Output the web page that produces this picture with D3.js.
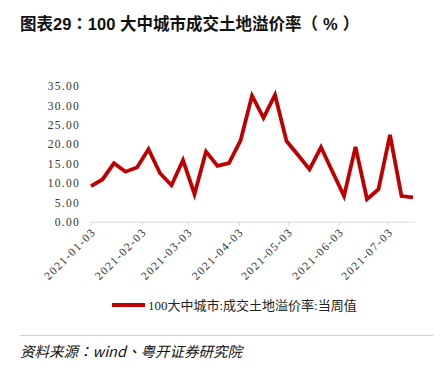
<!DOCTYPE html>
<html><head><meta charset="utf-8">
<script src="https://cdn.jsdelivr.net/npm/d3@7/dist/d3.min.js"></script>
<style>
html,body{margin:0;padding:0;background:#fff;}
svg{display:block;}
</style></head>
<body>
<script>
const titleText = "图表29：100 大中城市成交土地溢价率（%）";
const seriesName = "100大中城市:成交土地溢价率:当周值";
const sourceText = "资料来源：wind、粤开证券研究院";
const dates = ["2021-01-03","2021-01-10","2021-01-17","2021-01-24","2021-01-31","2021-02-07","2021-02-14","2021-02-21","2021-02-28","2021-03-07","2021-03-14","2021-03-21","2021-03-28","2021-04-04","2021-04-11","2021-04-18","2021-04-25","2021-05-02","2021-05-09","2021-05-16","2021-05-23","2021-05-30","2021-06-06","2021-06-13","2021-06-20","2021-06-27","2021-07-04","2021-07-11","2021-07-18"];
const values = [9.2,10.9,15.1,12.9,14.0,18.7,12.5,9.4,15.9,7.1,18.1,14.4,15.1,20.9,32.5,26.8,32.7,20.8,17.2,13.5,19.2,12.9,6.6,19.3,5.8,8.4,22.4,6.6,6.3];
const xTickLabels = ["2021-01-03","2021-02-03","2021-03-03","2021-04-03","2021-05-03","2021-06-03","2021-07-03"];
const yTicks = [0,5,10,15,20,25,30,35];

const W=445,H=368;
const parse=d3.timeParse("%Y-%m-%d");
const svg=d3.select("body").append("svg").attr("width",W).attr("height",H);

const x=d3.scaleTime().domain([parse(dates[0]),parse(dates[dates.length-1])]).range([91,413]);
const y=d3.scaleLinear().domain([0,35]).range([221.7,86]);

// title (split into runs so Latin digits use a sans Latin face and CJK punctuation is centred)
const tParts = [
  {t:"图表", f:"'Noto Sans CJK SC'"},
  {t:"29", f:"'Liberation Sans'"},
  {t:"：", f:"'Noto Sans CJK TC'"},
  {t:"100 ", f:"'Liberation Sans'"},
  {t:"大中城市成交土地溢价率", f:"'Noto Sans CJK SC'"},
  {t:"（", f:"'Noto Sans CJK TC'"},
  {t:"%", f:"'Liberation Sans'", dx:5},
  {t:"）", f:"'Noto Sans CJK TC'", dx:5}
];
const title=svg.append("text").attr("x",20).attr("y",30)
  .attr("font-weight","bold").attr("font-size",16.5).attr("fill","#111");
tParts.forEach(p=>title.append("tspan").attr("font-family",p.f).attr("dx",p.dx||0).text(p.t));

// y axis labels
const yAxis=svg.append("g").attr("transform","translate(90,0)")
  .call(d3.axisLeft(y).tickValues(yTicks).tickSize(0).tickPadding(10).tickFormat(d3.format(".2f")));
yAxis.select(".domain").remove();
yAxis.selectAll("text").attr("font-family","'Liberation Serif',serif").attr("font-size",11.5)
  .attr("letter-spacing","1.3px").attr("fill","#333");

// x axis
const xg=svg.append("g").attr("transform",`translate(0,${y(0)})`)
  .call(d3.axisBottom(x).tickValues(xTickLabels.map(parse)).tickSize(4).tickSizeOuter(0).tickFormat(d3.timeFormat("%Y-%m-%d")));
xg.select(".domain").attr("d",`M${x.range()[0]-1},0.5H${x.range()[1]+2}`).attr("stroke","#d9d9d9");
xg.selectAll(".tick line").attr("stroke","#d9d9d9");
xg.selectAll("text").attr("font-family","'Liberation Serif',serif").attr("font-size",11.5)
  .attr("letter-spacing","1.4px").attr("fill","#333")
  .attr("text-anchor","end").attr("dy","0").attr("y",0)
  .attr("transform","translate(5,11) rotate(-45)");

// line
svg.append("path").datum(values)
  .attr("fill","none").attr("stroke","#c00000").attr("stroke-width",3.8)
  .attr("stroke-linejoin","miter")
  .attr("d",d3.line().x((d,i)=>x(parse(dates[i]))).y(d=>y(d)));

// legend
const lg=svg.append("g");
lg.append("line").attr("x1",112).attr("x2",145).attr("y1",305).attr("y2",305)
  .attr("stroke","#c00000").attr("stroke-width",4);
lg.append("text").attr("x",148).attr("y",309.5)
  .attr("font-family","'Liberation Serif','Noto Sans CJK SC',serif").attr("font-size",13)
  .attr("fill","#222").text(seriesName);

// source
svg.append("line").attr("x1",20).attr("x2",433).attr("y1",335.5).attr("y2",335.5).attr("stroke","#d0d0d0").attr("stroke-width",1);
svg.append("text").attr("x",20).attr("y",357)
  .attr("font-family","'Noto Sans CJK TC',sans-serif").attr("font-style","italic")
  .attr("font-size",14.5).attr("fill","#111").text(sourceText);
</script>
</body></html>
